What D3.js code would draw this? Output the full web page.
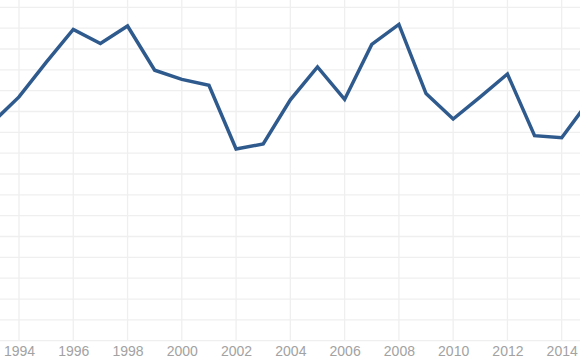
<!DOCTYPE html>
<html><head><meta charset="utf-8">
<script src="https://cdn.jsdelivr.net/npm/d3@7"></script>
<style>html,body{margin:0;padding:0;background:#fff;overflow:hidden}</style>
</head><body>
<svg id="c" width="580" height="359"></svg>
<script>
const years = [1993,1994,1995,1996,1997,1998,1999,2000,2001,2002,2003,2004,2005,2006,2007,2008,2009,2010,2011,2012,2013,2014,2015];
const values = [52.2,58.5,66.8,74.7,71.3,75.5,64.9,62.7,61.3,46.0,47.2,57.8,65.7,57.9,71.1,75.9,59.3,53.2,58.5,64.0,49.2,48.7,57.5];
const xTicks = [1994,1996,1998,2000,2002,2004,2006,2008,2010,2012,2014];
const yTicks = d3.range(0, 85, 5);

const svg = d3.select("#c");
const x = d3.scaleLinear().domain([1994, 2014]).range([19, 561.7]);
const y = d3.scaleLinear().domain([0, 80]).range([340.7, 7.3]);

const g = svg.append("g");
g.selectAll("line.h").data(yTicks).join("line")
  .attr("x1", 0).attr("x2", 580)
  .attr("y1", d => y(d)).attr("y2", d => y(d))
  .attr("stroke", "#efefef").attr("stroke-width", 1.3);
g.selectAll("line.v").data(xTicks).join("line")
  .attr("x1", d => x(d)).attr("x2", d => x(d))
  .attr("y1", 0).attr("y2", 341)
  .attr("stroke", "#efefef").attr("stroke-width", 1.3);

const xAxis = d3.axisBottom(x).tickValues(xTicks).tickFormat(d3.format("d")).tickSize(0).tickPadding(0);
const ax = svg.append("g").attr("transform", "translate(0,345)").call(xAxis);
ax.select(".domain").remove();
ax.selectAll("text").attr("fill", "#a2a2a2").attr("font-family", "Liberation Sans, Arial, sans-serif").attr("font-size", 14).attr("dy", "0.75em");

const line = d3.line().x((d,i) => x(years[i])).y(d => y(d));
svg.append("path").datum(values)
  .attr("d", line).attr("fill", "none")
  .attr("stroke", "#2e5a8e").attr("stroke-width", 3.5)
  .attr("stroke-linejoin", "miter");
</script>
</body></html>
